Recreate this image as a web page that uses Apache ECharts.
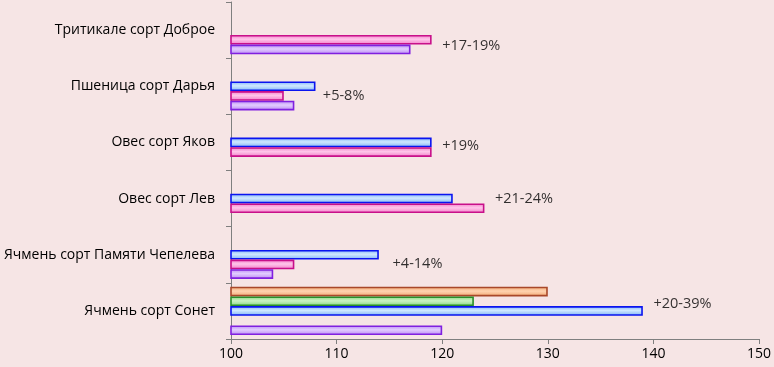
<!DOCTYPE html>
<html><head><meta charset="utf-8">
<script src="https://cdn.jsdelivr.net/npm/echarts@6/dist/echarts.min.js"></script>
<style>html,body{margin:0;padding:0;background:#F6E5E5;}#c{width:774px;height:367px;}</style>
</head><body><div id="c"></div>
<script>
// categories, bottom to top
const categories = ['Ячмень сорт Сонет', 'Ячмень сорт Памяти Чепелева', 'Овес сорт Лев', 'Овес сорт Яков', 'Пшеница сорт Дарья', 'Тритикале сорт Доброе'];
const violetValues = [120, 104, null, null, 106, 117];
const pinkValues   = [null, 106, 124, 119, 105, 119];
const blueValues   = [139, 114, 121, 119, 108, null];
const greenValues  = [123, null, null, null, null, null];
const orangeValues = [130, null, null, null, null, null];
const noteTexts  = ['+20-39%', '+4-14%', '+21-24%', '+19%', '+5-8%', '+17-19%'];
const noteX      = [140, 115.3, 125, 120, 108.7, 120];
const xTicks = [100, 110, 120, 130, 140, 150];

const noteDy = [-7, 9, 0, 3, 10, 16];
const FONT = '"Open Sans"';

function grad(mid, light) {
  return new echarts.graphic.LinearGradient(0, 0, 0, 1, [
    {offset: 0, color: mid}, {offset: 0.45, color: light}, {offset: 1, color: mid}
  ]);
}
function barSeries(name, data, border, mid, light) {
  return {
    name, type: 'bar', data, barGap: '0%', barCategoryGap: '14%',
    itemStyle: {color: grad(mid, light), borderColor: border, borderWidth: 1.6}
  };
}
// ECharts stacks horizontal groups top-down, so list the top slot first
const series = [
  barSeries('s5', orangeValues, '#A9482A', '#F2A874', '#FFD3B0'),
  barSeries('s4', greenValues, '#2A8F2A', '#86D67E', '#CBF2C4'),
  barSeries('s3', blueValues, '#0A14F0', '#80B4F5', '#CFE8FF'),
  barSeries('s2', pinkValues, '#C8108A', '#F27CC8', '#FFC6EA'),
  barSeries('s1', violetValues, '#8020E0', '#B98AF2', '#E2CCFF'),
  {
    type: 'scatter', symbolSize: 0, silent: true,
    data: noteTexts.map((t, i) => ({
      value: [noteX[i], i],
      label: {show: true, position: 'right', distance: 0, offset: [0, noteDy[i]], formatter: t,
        color: '#000', fontSize: 14.5, fontFamily: FONT}
    }))
  }
];

const chart = echarts.init(document.getElementById('c'));
chart.setOption({
  backgroundColor: '#F6E5E5',
  animation: false,
  grid: {left: 231, right: 13, top: 2, bottom: 28, containLabel: false},
  xAxis: {
    type: 'value', min: xTicks[0], max: xTicks[xTicks.length - 1], interval: 10,
    axisLine: {show: true, lineStyle: {color: '#7F7F7F', width: 1}},
    axisTick: {show: true, length: 5, lineStyle: {color: '#7F7F7F'}},
    splitLine: {show: false},
    axisLabel: {color: '#000', fontSize: 14, fontFamily: FONT, margin: 8}
  },
  yAxis: {
    type: 'category', data: categories,
    axisLine: {show: true, lineStyle: {color: '#7F7F7F', width: 1}},
    axisTick: {show: true, length: 5, lineStyle: {color: '#7F7F7F'}},
    axisLabel: {color: '#000', fontSize: 14, fontFamily: FONT, margin: 16}
  },
  series
});
</script>
</body></html>
